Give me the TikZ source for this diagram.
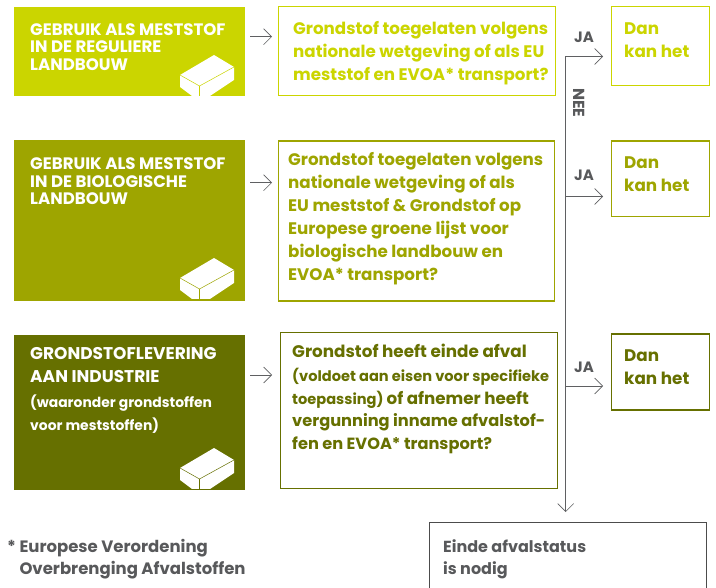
\documentclass[tikz,border=0pt]{standalone}
\usepackage{fontspec}
\setmainfont{Poppins}
\usetikzlibrary{arrows.meta}
\definecolor{cA}{HTML}{CBD500}
\definecolor{cB}{HTML}{9EA500}
\definecolor{cC}{HTML}{667000}
\definecolor{gr}{HTML}{5F6062}
\definecolor{tg}{HTML}{58595B}
\tikzset{
 x=1pt,y=-1pt,
 hbox/.style={anchor=north west,inner sep=0pt,outer sep=0pt,minimum width=231pt,fill=#1},
 obox/.style={anchor=north west,inner sep=0pt,draw=#1,line width=1.2pt},
 txt/.style={anchor=north west,inner sep=0pt,align=left,text=#1},
 lbl/.style={text=tg,inner sep=0pt,font=\fontsize{15}{15}\selectfont\bfseries},
 arr/.style={draw=gr,line width=0.7pt,-{Straight Barb[length=8pt,width=16pt,line width=0.6pt]}},
}
\newcommand{\brick}[2]{\begin{scope}[shift={(0,#1)}]
 \fill[white] (214,55)--(234,67)--(234,80)--(210,96)--(192,96)--(180,87)--(180,75)--cycle;
 \draw[#2,line width=0.5pt] (180,75)--(199.5,86)--(234,67);
 \draw[#2,line width=0.5pt] (199.5,86)--(199.5,96);
\end{scope}}
\newcommand{\fs}[2]{\fontsize{#1}{#2}\selectfont\bfseries}
\begin{document}
\begin{tikzpicture}
\useasboundingbox (0,0) rectangle (716,588);
\fill[white] (0,0) rectangle (716,588);
\node[hbox=cA,minimum height=89pt] (h1) at (14,7) {};
\node[hbox=cB,minimum height=161pt] (h2) at (14,140) {};
\node[hbox=cC,minimum height=155pt] (h3) at (14,335) {};
\brick{0}{cA}\brick{203}{cB}\brick{393}{cC}
\node[txt=white,font=\fs{16.6}{17.7}] (t1) at (30,23) {GEBRUIK ALS MESTSTOF\\IN DE REGULIERE\\LANDBOUW};
\node[txt=white,font=\fs{16.6}{17.7}] (t2) at (30,157.5) {GEBRUIK ALS MESTSTOF\\IN DE BIOLOGISCHE\\LANDBOUW};
\node[txt=white,font=\fs{17}{23.3}] (t3) at (30,347) {GRONDSTOFLEVERING\\AAN INDUSTRIE};
\node[txt=white,font=\fs{13.9}{23}] (t3b) at (30,395) {(waaronder grondstoffen\\voor meststoffen)};
\node[obox=cA,minimum width=277pt,minimum height=89pt] (q1) at (278,6) {};
\node[obox=cB,minimum width=276pt,minimum height=160pt] (q2) at (278,140.5) {};
\node[obox=cC,minimum width=276.5pt,minimum height=155.5pt] (q3) at (280,332.3) {};
\node[obox=cA,minimum width=98pt,minimum height=78.7pt] (d1) at (611,6) {};
\node[obox=cB,minimum width=98pt,minimum height=75.5pt] (d2) at (611,140.5) {};
\node[obox=cC,minimum width=98pt,minimum height=76pt] (d3) at (611,333.5) {};
\node[anchor=north west,inner sep=0pt,draw=black!70,line width=0.9pt,minimum width=277pt,minimum height=72pt] (e) at (429,522) {};
\node[txt=cA,font=\fs{16.7}{23}] (q1t) at (293,21) {Grondstof toegelaten volgens\\nationale wetgeving of als EU\\meststof en EVOA* transport?};
\node[txt=cB,font=\fs{16.7}{22.9}] (q2t) at (288,152.3) {Grondstof toegelaten volgens\\nationale wetgeving of als\\EU meststof \& Grondstof op\\Europese groene lijst voor\\biologische landbouw en\\EVOA* transport?};
\node[txt=cC,font=\fs{16.8}{23}] (q3a) at (292,344) {Grondstof heeft einde afval};
\node[txt=cC,font=\fs{14.6}{23}] (q3b) at (292,368) {(voldoet aan eisen voor specifieke\\toepassing) \fs{16.7}{23}of afnemer heeft};
\node[txt=cC,font=\fs{16.2}{23}] (q3c) at (292,413) {vergunning inname afvalstof-\\fen en EVOA* transport?};
\node[txt=cA,font=\fs{16.8}{23}] (d1t) at (624,22.6) {Dan\\kan het};
\node[txt=cB,font=\fs{16.8}{23}] (d2t) at (624,157) {Dan\\kan het};
\node[txt=cC,font=\fs{16.8}{23}] (d3t) at (624,350) {Dan\\kan het};
\node[txt=tg,font=\fs{16}{22.5}] (et) at (443,539) {Einde afvalstatus\\is nodig};
\node[txt=tg,font=\fs{16.5}{22.5}] (nt) at (7,539) {* Europese Verordening\\\phantom{* }Overbrenging Afvalstoffen};
\node[lbl] (ja1) at (584,37.7) {JA};
\node[lbl] (ja2) at (584,175) {JA};
\node[lbl] (ja3) at (584,367.7) {JA};
\node[lbl,font=\fontsize{16}{16}\selectfont\bfseries,rotate=-90] (nee) at (578.7,102.7) {NEE};
\coordinate (a1) at (250,36.7);\coordinate (b1) at (272,36.7);
\coordinate (a2) at (250,182.7);\coordinate (b2) at (272,182.7);
\coordinate (a3) at (250,375);\coordinate (b3) at (272,375);
\draw[arr] (a1)--(b1);\draw[arr] (a2)--(b2);\draw[arr] (a3)--(b3);
\coordinate (top) at (565.7,56.5);
\coordinate (j2) at (565.7,196.5);
\coordinate (j3) at (565.7,386);
\coordinate (c1) at (603,56.5);
\coordinate (c2) at (603,196.5);
\coordinate (c3) at (603,386);
\coordinate (end) at (565.7,512);
\draw[arr] (top)--(c1);
\draw[arr] (j2)--(c2);
\draw[arr] (j3)--(c3);
\draw[arr] (top)--(end);
\end{tikzpicture}
\end{document}
